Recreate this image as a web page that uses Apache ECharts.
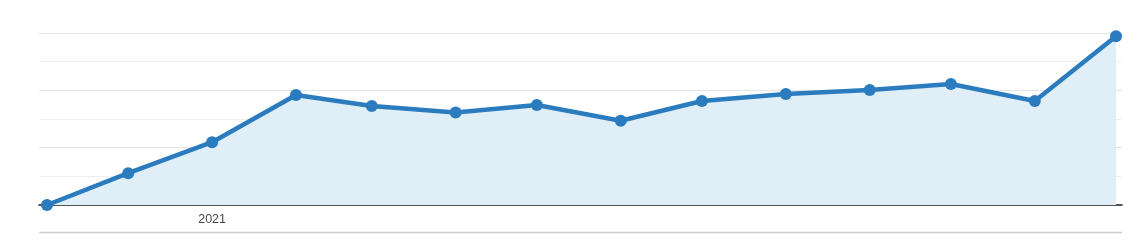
<!DOCTYPE html>
<html>
<head>
<meta charset="utf-8">
<script src="https://cdn.jsdelivr.net/npm/echarts@6/dist/echarts.min.js"></script>
<style>
html,body{margin:0;padding:0;background:#fff;}
#chart{width:1139px;height:242px;}
</style>
</head>
<body>
<div id="chart"></div>
<script>
// Data
var months = ['2020-11-01','2020-12-01','2021-01-01','2021-02-01','2021-03-01','2021-04-01','2021-05-01','2021-06-01','2021-07-01','2021-08-01','2021-09-01','2021-10-01','2021-11-01','2021-12-01'];
var sessions = [0, 111, 219, 384, 345, 323, 349, 294, 363, 387, 401, 422, 363, 589];
var tickDates = ['2021-01-01'];
var tickLabels = ['2021'];
var yMin = 0, yMax = 600, yStep = 100;

var DAY = 86400000;
function dayNum(s) { var p = s.split('-'); return Date.UTC(+p[0], +p[1] - 1, +p[2]) / DAY; }

var seriesData = months.map(function (m, i) { return [dayNum(m), sessions[i]]; });
var tickValues = tickDates.map(dayNum);

var chart = echarts.init(document.getElementById('chart'), null, {renderer: 'canvas'});
chart.setOption({
  animation: false,
  backgroundColor: '#ffffff',
  grid: [
    {left: 39, right: 17, top: 33, bottom: 37},
    {left: 47, right: 23, top: 33, bottom: 37}
  ],
  xAxis: [
    {
      gridIndex: 0, type: 'category', data: months, boundaryGap: false,
      axisLine: {show: true, lineStyle: {color: '#222222', width: 1.6}},
      axisTick: {show: false}, axisLabel: {show: false}, splitLine: {show: false}
    },
    {
      gridIndex: 1, type: 'value',
      min: dayNum(months[0]), max: dayNum(months[months.length - 1]),
      axisLine: {show: false}, axisTick: {show: false}, splitLine: {show: false},
      axisLabel: {
        show: true, margin: 8,
        customValues: tickValues,
        color: '#444444', fontSize: 12.5, fontFamily: 'Liberation Sans, Arial, sans-serif',
        formatter: function (v) {
          var i = tickValues.indexOf(Math.round(+v));
          return i >= 0 ? tickLabels[i] : '';
        }
      }
    }
  ],
  yAxis: [
    {
      gridIndex: 0, type: 'value', min: yMin, max: yMax, interval: yStep,
      axisLine: {show: false}, axisTick: {show: false}, axisLabel: {show: false},
      splitLine: {show: true, lineStyle: {color: ['#e4e4e4', '#efefef'], width: 1}}
    },
    {
      gridIndex: 1, type: 'value', min: yMin, max: yMax, interval: yStep,
      axisLine: {show: false}, axisTick: {show: false}, axisLabel: {show: false},
      splitLine: {show: false}
    }
  ],
  graphic: [
    {
      type: 'line', silent: true,
      shape: {x1: 39, y1: 232.5, x2: 1122, y2: 232.5},
      style: {stroke: '#cccccc', lineWidth: 1.5}
    }
  ],
  series: [
    {
      type: 'line', xAxisIndex: 1, yAxisIndex: 1,
      data: seriesData,
      symbol: 'circle', symbolSize: 12, showAllSymbol: true,
      lineStyle: {color: '#2b7bbf', width: 4.5},
      itemStyle: {color: '#2b7bbf'},
      areaStyle: {color: '#dfeef7', opacity: 1},
      z: 3
    }
  ]
});
</script>
</body>
</html>
